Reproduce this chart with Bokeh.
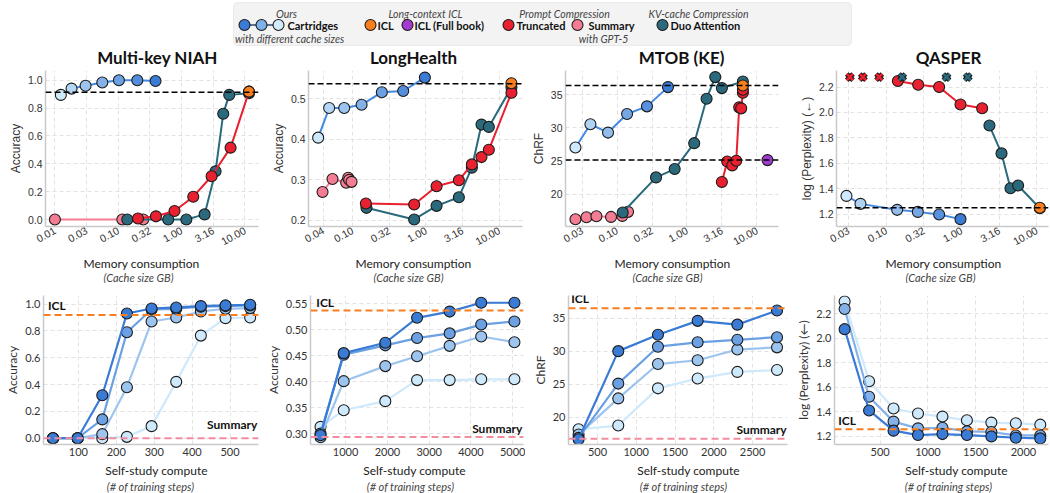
import numpy as np
from bokeh.plotting import figure
from bokeh.layouts import column, row
from bokeh.models import (Span, Label, FixedTicker, NumeralTickFormatter,
                          BoxAnnotation, Range1d)
from bokeh.core.properties import value
from bokeh.embed import file_html
from bokeh.resources import INLINE

# ------------------------------------------------------------------ data
titles = ["Multi-key NIAH", "LongHealth", "MTOB (KE)", "QASPER"]

# Multi-key NIAH : memory (GB) vs accuracy
niah_cart_mem = [0.0124, 0.0183, 0.0305, 0.056, 0.1025, 0.20, 0.388]
niah_cart_acc = [0.895, 0.94, 0.96, 0.984, 1.0, 1.0, 0.995]
niah_duo_mem = [0.139, 0.615, 1.19, 2.31, 3.44, 4.55, 5.66, 11.6]
niah_duo_acc = [0.0, 0.0, 0.0, 0.037, 0.346, 0.76, 0.895, 0.907]
niah_trunc_mem = [0.205, 0.394, 0.774, 1.53, 2.98, 5.94, 11.6]
niah_trunc_acc = [0.007, 0.023, 0.061, 0.164, 0.311, 0.516, 0.918]
niah_summ_mem = [0.01, 0.116, 0.248]
niah_summ_acc = [0.0, 0.0, 0.0]
niah_icl_mem = [11.6]
niah_icl_acc = [0.918]

# LongHealth
lh_cart_mem = [0.034, 0.048, 0.077, 0.133, 0.251, 0.491, 0.97]
lh_cart_acc = [0.404, 0.477, 0.477, 0.485, 0.516, 0.519, 0.552]
lh_summ_mem = [0.039, 0.0533, 0.082, 0.0873, 0.090, 0.097]
lh_summ_acc = [0.270, 0.302, 0.293, 0.305, 0.300, 0.295]
lh_trunc_mem = [0.152, 0.693, 1.40, 2.82, 4.24, 5.74, 7.23, 14.7]
lh_trunc_acc = [0.2416, 0.2392, 0.2841, 0.2989, 0.3381, 0.3561, 0.3741, 0.5147]
lh_duo_mem = [0.155, 0.693, 1.40, 2.82, 4.24, 5.74, 7.23, 14.7]
lh_duo_acc = [0.231, 0.2024, 0.2359, 0.2572, 0.330, 0.4362, 0.4305, 0.528]
lh_icl_mem = [14.7]
lh_icl_acc = [0.538]

# MTOB (KE)
mtob_cart_mem = [0.0254, 0.0416, 0.0743, 0.139, 0.268, 0.535]
mtob_cart_chrf = [27.03, 30.54, 29.28, 32.09, 33.24, 36.15]
mtob_summ_mem = [0.0254, 0.0365, 0.0507, 0.082, 0.119, 0.1436]
mtob_summ_chrf = [16.19, 16.49, 16.64, 16.54, 16.69, 17.3]
mtob_duo_mem = [0.1205, 0.361, 0.667, 1.27, 1.91, 2.54, 3.16, 6.31]
mtob_duo_chrf = [17.2, 22.51, 23.77, 27.68, 34.4, 37.66, 36.0, 37.0]
mtob_trunc_mem = [3.16, 3.77, 4.44, 5.07, 5.59, 5.97, 6.31, 6.31]
mtob_trunc_chrf = [21.81, 24.92, 24.32, 25.02, 33.09, 32.94, 35.3, 35.75]
mtob_icl_mem = [6.31]
mtob_icl_chrf = [36.4]
mtob_full_mem = [14.2]
mtob_full_chrf = [25.12]

# QASPER
qa_cart_mem = [0.0297, 0.0456, 0.14, 0.263, 0.505, 0.97]
qa_cart_ppl = [1.3436, 1.281, 1.234, 1.218, 1.197, 1.161]
qa_trunc_mem = [0.143, 0.266, 0.505, 0.97, 1.88]
qa_trunc_ppl = [2.247, 2.218, 2.2, 2.062, 2.033]
qa_duo_mem = [2.35, 3.4, 4.47, 5.65, 10.96]
qa_duo_ppl = [1.897, 1.678, 1.404, 1.425, 1.247]
qa_icl_mem = [10.96]
qa_icl_ppl = [1.25]
qa_trunc_fail_mem = [0.033, 0.049, 0.0807]
qa_duo_fail_mem = [0.163, 0.632, 1.21]
qa_fail_ppl = 2.278

# Self-study compute (training steps), curves from largest to smallest cache
niah_steps = [33, 98, 163, 228, 293, 358, 423, 488, 553]
niah_curves = [
    [0.0, 0.0, 0.32, 0.93, 0.967, 0.975, 0.985, 0.99, 0.995],
    [0.0, 0.0, 0.14, 0.79, 0.96, 0.965, 0.98, 0.985, 0.99],
    [0.0, 0.0, 0.03, 0.38, 0.87, 0.90, 0.945, 0.965, 0.97],
    [0.0, 0.0, 0.0, 0.01, 0.09, 0.42, 0.765, 0.895, 0.90],
]
niah_icl_ref = 0.918
niah_summ_ref = 0.0

lh_steps = [400, 955, 1950, 2710, 3490, 4245, 5040]
lh_curves = [
    [0.297, 0.455, 0.475, 0.523, 0.535, 0.552, 0.552],
    [0.300, 0.452, 0.470, 0.484, 0.493, 0.510, 0.516],
    [0.293, 0.401, 0.430, 0.449, 0.469, 0.487, 0.476],
    [0.313, 0.345, 0.3625, 0.403, 0.403, 0.4046, 0.4046],
]
lh_icl_ref = 0.537
lh_summ_ref = 0.2936

mt_steps = [256, 768, 1280, 1792, 2304, 2816]
mt_curves = [
    [16.7, 30.0, 32.48, 34.57, 34.0, 36.14],
    [16.9, 25.1, 30.67, 31.33, 31.71, 32.1],
    [17.4, 22.86, 28.05, 28.62, 30.24, 30.57],
    [18.2, 18.76, 24.38, 25.86, 26.86, 27.14],
]
mt_icl_ref = 36.48
mt_summ_ref = 16.76

qa_steps = [128, 384, 640, 896, 1152, 1408, 1664, 1920, 2176]
qa_curves = [
    [2.076, 1.412, 1.247, 1.211, 1.219, 1.211, 1.2, 1.189, 1.184],
    [2.241, 1.524, 1.321, 1.266, 1.271, 1.241, 1.236, 1.208, 1.208],
    [2.302, 1.651, 1.428, 1.387, 1.362, 1.332, 1.313, 1.307, 1.296],
]
qa_icl_ref = 1.258

half_decades = [0.01, 10 ** -1.5, 0.1, 10 ** -0.5, 1.0, 10 ** 0.5, 10.0]
lh_ticks = [0.04, 0.1, 10 ** -0.5, 1.0, 10 ** 0.5, 10.0]

# ------------------------------------------------------------------ style
RED = "#e8202f"
PINK = "#f47c93"
TEAL = "#2b6a7c"
ORANGE = "#f97e1f"
PURPLE = "#a23bd0"
BLUE = "#4389e0"
EDGE = "#1b1b1b"
LIGHT = (206, 233, 251)
DARK = (58, 123, 213)


def grad(n, reverse=False):
    cols = []
    for t in np.linspace(0, 1, n):
        c = tuple(int(round(a + (b - a) * t)) for a, b in zip(LIGHT, DARK))
        cols.append("#%02x%02x%02x" % c)
    return cols[::-1] if reverse else cols


def pts(p, x, y, color, size=11):
    p.scatter(x, y, size=size, fill_color=color, line_color=EDGE, line_width=1.1)


def ln(p, x, y, color, w=2.0):
    p.line(x, y, line_color=color, line_width=w)


def style_axes(p, tick_font, tick_size, ylab_font):
    p.outline_line_color = None
    p.background_fill_color = "white"
    p.border_fill_color = "white"
    for ax in (p.xaxis[0], p.yaxis[0]):
        ax.axis_line_color = "#c9c9c9"
        ax.axis_line_width = 1.5
        ax.major_tick_out = 0
        ax.major_tick_in = 0
        ax.minor_tick_out = 0
        ax.minor_tick_in = 0
        ax.major_label_text_font = tick_font
        ax.major_label_text_font_size = tick_size
        ax.major_label_text_color = "#333333"
        ax.major_label_standoff = 3
        ax.axis_label_standoff = 2
        ax.axis_label_text_font_style = "normal"
    p.yaxis.axis_label_text_font = ylab_font
    p.yaxis.axis_label_text_font_size = "12px"
    p.yaxis.axis_label_text_color = "#333333"
    p.grid.grid_line_color = "#e2e2e2"
    p.grid.grid_line_dash = "4 3"
    p.grid.grid_line_width = 1


def top_fig(xr, yr, xticks, yticks, yfmt, ylabel, width, bl, br):
    p = figure(width=width, height=187, x_axis_type="log", title=None,
               x_range=Range1d(*xr), y_range=Range1d(*yr),
               output_backend="svg", toolbar_location=None,
               min_border_left=bl, min_border_right=br,
               min_border_top=2, min_border_bottom=29)
    style_axes(p, "Liberation Sans", "10.5px", "Liberation Sans")
    p.xaxis.ticker = FixedTicker(ticks=xticks, minor_ticks=[])
    p.xaxis.formatter = NumeralTickFormatter(format="0.00")
    p.xaxis.major_label_orientation = 0.5
    p.yaxis.ticker = FixedTicker(ticks=yticks, minor_ticks=[])
    p.yaxis.formatter = NumeralTickFormatter(format=yfmt)
    p.yaxis.axis_label = ylabel
    return p


def bot_fig(xr, yr, xticks, yticks, yfmt, ylabel, width, bl, br):
    p = figure(width=width, height=179, title=None,
               x_range=Range1d(*xr), y_range=Range1d(*yr),
               output_backend="svg", toolbar_location=None,
               min_border_left=bl, min_border_right=br,
               min_border_top=12, min_border_bottom=18)
    style_axes(p, "Lato", "11px", "Lato")
    p.xaxis.ticker = FixedTicker(ticks=xticks, minor_ticks=[])
    p.yaxis.ticker = FixedTicker(ticks=yticks, minor_ticks=[])
    p.yaxis.formatter = NumeralTickFormatter(format=yfmt)
    p.yaxis.axis_label = ylabel
    return p


def strip(h, lines):
    """A thin text-only band; lines = (x centres, y from top, text, size, style, colour)."""
    s = figure(width=1050, height=h, x_range=Range1d(0, 1050), y_range=Range1d(0, h),
               output_backend="svg", toolbar_location=None, min_border=0, title=None)
    s.axis.visible = False
    s.grid.visible = False
    s.outline_line_color = None
    for xs, ytop, text, size, style, color in lines:
        texts = text if isinstance(text, list) else [text] * len(xs)
        s.text(x=xs, y=[h - ytop] * len(xs), text=texts,
               text_font=value("Lato"), text_font_style=style, text_font_size=size,
               text_color=color, text_align="center", text_baseline="middle")
    return s


def ref_line(p, y, color, dash="6 3", w=1.5):
    p.add_layout(Span(location=y, dimension="width", line_color=color,
                      line_dash=dash, line_width=w))


def tag(p, x, y, text, align="left"):
    p.add_layout(Label(x=x, y=y, text=text, text_font="Lato", text_font_style="bold",
                       text_font_size="12px", text_color="#111111",
                       text_align=align, text_baseline="bottom"))


def cartridges(p, x, y):
    ln(p, x, y, BLUE)
    pts(p, x, y, grad(len(x)))


# ------------------------------------------------------------------ top row
p1 = top_fig((0.0071, 16.4), (-0.05, 1.07), half_decades,
             [0, 0.2, 0.4, 0.6, 0.8, 1.0], "0.0", "Accuracy", 262, 45, 4)
ref_line(p1, 0.914, "black")
cartridges(p1, niah_cart_mem, niah_cart_acc)
ln(p1, niah_summ_mem, niah_summ_acc, PINK)
pts(p1, niah_summ_mem, niah_summ_acc, PINK)
ln(p1, niah_duo_mem, niah_duo_acc, TEAL)
pts(p1, niah_duo_mem, niah_duo_acc, TEAL)
ln(p1, niah_trunc_mem, niah_trunc_acc, RED)
pts(p1, niah_trunc_mem, niah_trunc_acc, RED)
pts(p1, niah_icl_mem, niah_icl_acc, ORANGE)

p2 = top_fig((0.0251, 20.8), (0.185, 0.5695), lh_ticks,
             [0.2, 0.3, 0.4, 0.5], "0.0", "Accuracy", 263, 46, 3)
ref_line(p2, 0.537, "black")
cartridges(p2, lh_cart_mem, lh_cart_acc)
ln(p2, lh_summ_mem, lh_summ_acc, PINK)
pts(p2, lh_summ_mem, lh_summ_acc, PINK)
ln(p2, lh_duo_mem, lh_duo_acc, TEAL)
pts(p2, lh_duo_mem, lh_duo_acc, TEAL)
ln(p2, lh_trunc_mem, lh_trunc_acc, RED)
pts(p2, lh_trunc_mem, lh_trunc_acc, RED)
pts(p2, lh_icl_mem, lh_icl_acc, ORANGE)

p3 = top_fig((0.0183, 20.4), (15.09, 38.66), half_decades[1:],
             [20, 25, 30, 35], "0", "ChRF", 263, 40, 10)
ref_line(p3, 36.4, "black")
ref_line(p3, 25.12, "black")
cartridges(p3, mtob_cart_mem, mtob_cart_chrf)
ln(p3, mtob_summ_mem, mtob_summ_chrf, PINK)
pts(p3, mtob_summ_mem, mtob_summ_chrf, PINK)
ln(p3, mtob_duo_mem, mtob_duo_chrf, TEAL)
pts(p3, mtob_duo_mem, mtob_duo_chrf, TEAL)
ln(p3, mtob_trunc_mem, mtob_trunc_chrf, RED)
pts(p3, mtob_trunc_mem, mtob_trunc_chrf, RED)
pts(p3, mtob_icl_mem, mtob_icl_chrf, ORANGE)
pts(p3, mtob_full_mem, mtob_full_chrf, PURPLE)

p4 = top_fig((0.0219, 14.3), (1.103, 2.33), half_decades[1:],
             [1.2, 1.4, 1.6, 1.8, 2.0, 2.2], "0.0", "log (Perplexity) (\u2190)", 262, 48, 2)
ref_line(p4, 1.25, "black")
cartridges(p4, qa_cart_mem, qa_cart_ppl)
ln(p4, qa_trunc_mem, qa_trunc_ppl, RED)
pts(p4, qa_trunc_mem, qa_trunc_ppl, RED)
ln(p4, qa_duo_mem, qa_duo_ppl, TEAL)
pts(p4, qa_duo_mem, qa_duo_ppl, TEAL)
pts(p4, qa_icl_mem, qa_icl_ppl, ORANGE)
for xs, col in ((qa_trunc_fail_mem, RED), (qa_duo_fail_mem, TEAL)):
    ys = [qa_fail_ppl] * len(xs)
    p4.scatter(xs, ys, marker="x", size=9, line_color=EDGE, line_width=5)
    p4.scatter(xs, ys, marker="x", size=9, line_color=col, line_width=2.6)


# ------------------------------------------------------------------ bottom row
def curves(p, steps, series):
    cols = grad(len(series), reverse=True)
    for vals, c in list(zip(series, cols))[::-1]:
        ln(p, steps, vals, c, 2.2)
        pts(p, steps, vals, c)


p5 = bot_fig((8, 575), (-0.047, 1.064), [100, 200, 300, 400, 500],
             [0, 0.2, 0.4, 0.6, 0.8, 1.0], "0.0", "Accuracy", 262, 43, 4)
ref_line(p5, niah_icl_ref, ORANGE, "7 4", 2)
ref_line(p5, niah_summ_ref, "#f48ca0", "7 4", 2)
curves(p5, niah_steps, niah_curves)
tag(p5, 20, 0.935, "ICL")
tag(p5, 572, 0.045, "Summary", "right")

p6 = bot_fig((160, 5257), (0.279, 0.566), [1000, 2000, 3000, 4000, 5000],
             [0.30, 0.35, 0.40, 0.45, 0.50, 0.55], "0.00", "Accuracy", 263, 43, 2)
ref_line(p6, lh_icl_ref, ORANGE, "7 4", 2)
ref_line(p6, lh_summ_ref, "#f48ca0", "7 4", 2)
curves(p6, lh_steps, lh_curves)
tag(p6, 300, 0.539, "ICL")
tag(p6, 5230, 0.296, "Summary", "right")

p7 = bot_fig((126, 2951), (15.9, 38.4), [500, 1000, 1500, 2000, 2500],
             [20, 25, 30, 35], "0", "ChRF", 263, 43, 1)
ref_line(p7, mt_icl_ref, ORANGE, "7 4", 2)
ref_line(p7, mt_summ_ref, "#f48ca0", "7 4", 2)
curves(p7, mt_steps, mt_curves)
tag(p7, 160, 36.75, "ICL")
tag(p7, 2940, 17.1, "Summary", "right")

p8 = bot_fig((22, 2262), (1.134, 2.351), [500, 1000, 1500, 2000],
             [1.2, 1.4, 1.6, 1.8, 2.0, 2.2], "0.0", "log (Perplexity) (\u2190)", 262, 46, 2)
ref_line(p8, qa_icl_ref, ORANGE, "7 4", 2)
curves(p8, qa_steps, qa_curves)
tag(p8, 60, 1.27, "ICL")

# ------------------------------------------------------------------ legend
lg = figure(width=1050, height=46, x_range=Range1d(0, 1050), y_range=Range1d(0, 46),
            output_backend="svg", toolbar_location=None, min_border=0, title=None)
lg.axis.visible = False
lg.grid.visible = False
lg.outline_line_color = None
lg.add_layout(BoxAnnotation(left=233, right=851, bottom=1, top=44, level="underlay",
                            fill_color="#f3f3f3", fill_alpha=1,
                            line_color="#c8c8c8", line_width=1, border_radius=4))
hdr_y, row_y, sub_y = 33, 21.5, 7.5
lg.text(x=[286, 425, 564, 698], y=[hdr_y] * 4,
        text=["Ours", "Long-context ICL", "Prompt Compression", "KV-cache Compression"],
        text_font=value("Lato"), text_font_style="italic", text_font_size="10.5px",
        text_color="#444444", text_align="center", text_baseline="middle")
lg.text(x=[289, 603], y=[sub_y] * 2, text=["with different cache sizes", "with GPT-5"],
        text_font=value("Lato"), text_font_style="italic", text_font_size="10.5px",
        text_color="#444444", text_align="center", text_baseline="middle")
lg.text(x=[287, 377, 414, 516, 588, 670], y=[row_y] * 6,
        text=["Cartridges", "ICL", "ICL (Full book)", "Truncated", "Summary", "Duo Attention"],
        text_font=value("Lato"), text_font_style="bold", text_font_size="11px",
        text_color="#111111", text_align="left", text_baseline="middle")
lg.line([244, 278], [row_y, row_y], line_color="#2a4a70", line_width=1.5)
lg.scatter([244, 261, 278], [row_y] * 3, size=11,
           fill_color=["#3a7bd5", "#7fb2ea", "#d2ecfb"], line_color=EDGE, line_width=1.1)
lg.scatter([370, 407, 508, 577, 662], [row_y] * 5, size=11,
           fill_color=[ORANGE, PURPLE, RED, PINK, TEAL], line_color=EDGE, line_width=1.1)

title_strip = strip(22, [([157, 413, 681, 948], 11, titles, "17px", "bold", "#111111")])
mem_strip = strip(28, [([141, 413, 672, 943], 8, "Memory consumption", "12px", "normal", "#222222"),
                       ([138, 408, 667, 940], 22, "(Cache size GB)", "11px", "italic", "#444444")])
steps_strip = strip(31, [([156, 414, 688, 956], 8, "Self-study compute", "12px", "normal", "#222222"),
                         ([150, 410, 683, 948], 24, "(# of training steps)", "11px", "italic", "#444444")])

layout = column(lg, title_strip, row(p1, p2, p3, p4), mem_strip,
                row(p5, p6, p7, p8), steps_strip)
open("out.html", "w").write(file_html(layout, INLINE))
